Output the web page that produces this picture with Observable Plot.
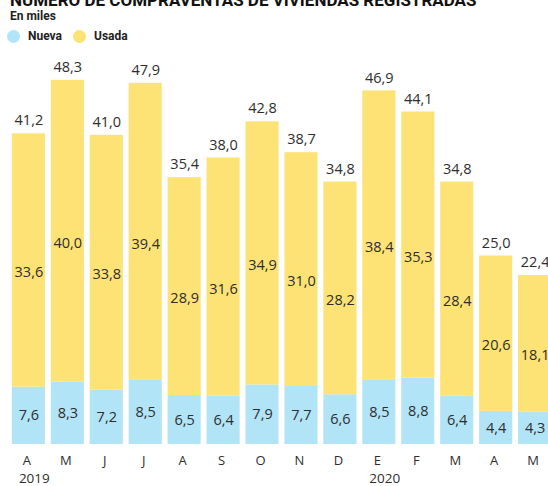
<!DOCTYPE html>
<html>
<head>
<meta charset="utf-8">
<script src="https://cdn.jsdelivr.net/npm/d3@7"></script>
<script src="https://cdn.jsdelivr.net/npm/@observablehq/plot@0.6"></script>
<style>
  body { margin: 0; background: #fff; }
  #wrap { position: relative; width: 548px; height: 486px; overflow: hidden; font-family: Roboto, "Open Sans", sans-serif; }
  #head { position: relative; height: 48px; }
  .title { position: absolute; left: 10px; top: -10px; font-size: 17px; font-weight: 700; color: #111; white-space: nowrap; }
  .sub { position: absolute; left: 10px; top: 9px; font-size: 12px; font-weight: 700; color: #222; }
  .leg { position: absolute; top: 29px; font-size: 12px; font-weight: 700; color: #222; display: flex; align-items: center; }
  .dot { width: 13px; height: 13px; border-radius: 50%; display: inline-block; margin-right: 8px; }
  #chart svg { display: block; max-width: none !important; width: 560px !important; height: 438px !important; }
</style>
</head>
<body>
<div id="wrap">
  <div id="head">
    <div class="title">NÚMERO DE COMPRAVENTAS DE VIVIENDAS REGISTRADAS</div>
    <div class="sub">En miles</div>
    <div class="leg" style="left:7px"><span class="dot" style="background:#b2e4f8"></span>Nueva</div>
    <div class="leg" style="left:73px"><span class="dot" style="background:#fde275"></span>Usada</div>
  </div>
  <div id="chart"></div>
</div>
<script>
const months = ["A","M","J","J","A","S","O","N","D","E","F","M","A","M"];
const nueva  = [7.6, 8.3, 7.2, 8.5, 6.5, 6.4, 7.9, 7.7, 6.6, 8.5, 8.8, 6.4, 4.4, 4.3];
const usada  = [33.6, 40.0, 33.8, 39.4, 28.9, 31.6, 34.9, 31.0, 28.2, 38.4, 35.3, 28.4, 20.6, 18.1];
const totals = [41.2, 48.3, 41.0, 47.9, 35.4, 38.0, 42.8, 38.7, 34.8, 46.9, 44.1, 34.8, 25.0, 22.4];
const years  = [{i: 0, t: "2019"}, {i: 9, t: "2020"}];
const tipos  = ["Nueva", "Usada"];
const colors = ["#b2e4f8", "#fde275"];

const idx = months.map((_, i) => i);
const rows = [];
idx.forEach(i => {
  rows.push({i, tipo: "Nueva", v: nueva[i]});
  rows.push({i, tipo: "Usada", v: usada[i]});
});
const fmt = d => d.toFixed(1).replace(".", ",");
const txt = "#2e2e2e";
const font = "'Open Sans', sans-serif";

const chart = Plot.plot({
  width: 560,
  height: 438,
  marginLeft: 6,
  marginRight: 3,
  marginTop: 19,
  marginBottom: 42,
  style: {fontFamily: font, background: "white"},
  x: {type: "band", domain: idx, padding: 0.15, round: false},
  y: {domain: [0, 50], axis: null},
  color: {domain: tipos, range: colors},
  marks: [
    Plot.barY(rows, Plot.stackY({x: "i", y: "v", z: "tipo", fill: "tipo", order: tipos})),
    Plot.text(rows, Plot.stackY({x: "i", y: "v", z: "tipo", order: tipos, text: d => d.tipo === "Nueva" ? fmt(d.v) : null, fontSize: 14.5, fill: txt})),
    Plot.text(rows, Plot.stackY({x: "i", y: "v", z: "tipo", order: tipos, text: d => d.tipo === "Usada" ? fmt(d.v) : null, fontSize: 14.5, fill: txt, dy: 12})),
    Plot.text(idx, {x: d => d, y: d => totals[d], text: d => fmt(totals[d]), fontSize: 14.5, fill: txt, dy: -13}),
    Plot.axisX({tickSize: 0, tickPadding: 11, tickFormat: d => months[d], fontSize: 13, fill: txt, dx: -2, label: null}),
    Plot.text(years, {x: "i", text: "t", frameAnchor: "bottom", dy: 38, dx: -10, textAnchor: "start", fontSize: 13.5, fill: txt})
  ]
});
document.getElementById("chart").appendChild(chart);
</script>
</body>
</html>
